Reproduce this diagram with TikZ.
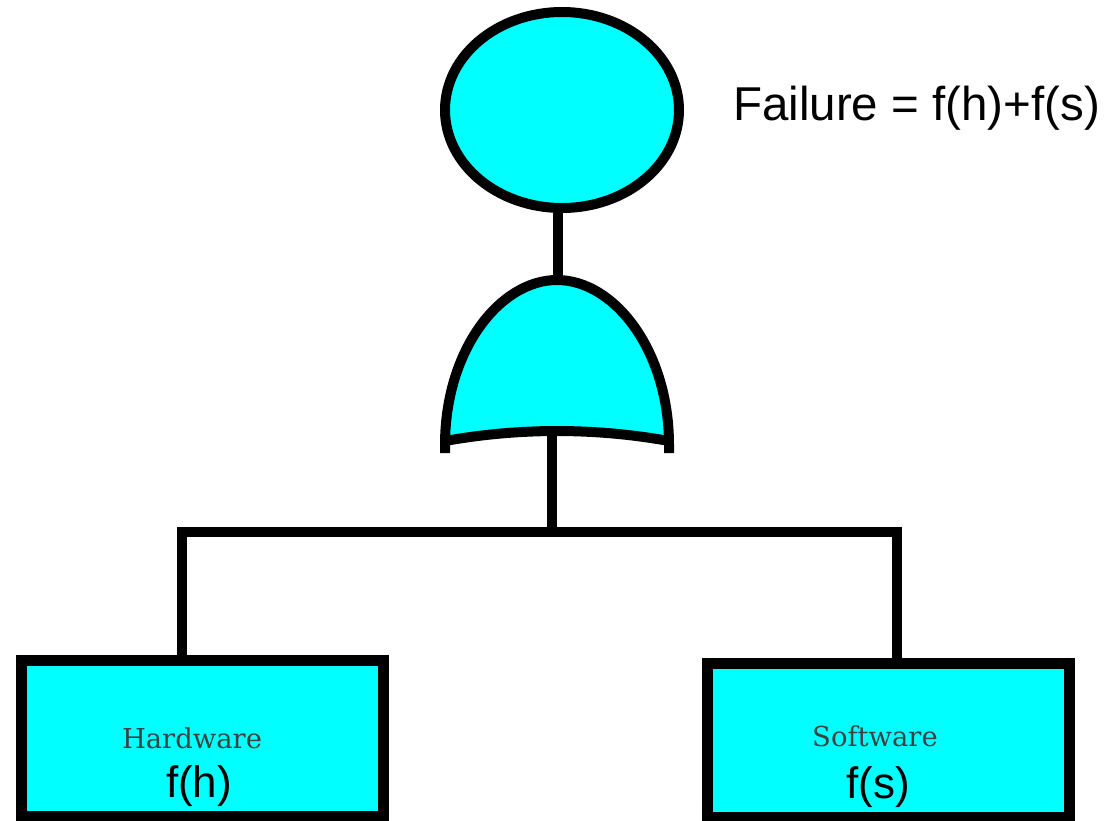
\documentclass[tikz,border=0pt]{standalone}
\usepackage{fontspec}
\setmainfont{Liberation Sans}
\newfontfamily\labelserif{DejaVu Serif}
\usetikzlibrary{shapes.geometric}
\definecolor{gatecyan}{HTML}{00FFFF}
\begin{document}
\begin{tikzpicture}[x=1pt,y=-1pt,
  wire/.style={line width=10pt,draw=black},
  eventbox/.style={rectangle,draw=black,fill=gatecyan,line width=11pt,inner sep=0pt},
  topevent/.style={ellipse,draw=black,fill=gatecyan,line width=10pt,inner sep=0pt,
    minimum width=234pt,minimum height=196pt},
  smalllabel/.style={font=\labelserif\fontsize{27.4}{30}\selectfont,text=black!75,anchor=base,inner sep=0pt},
  funclabel/.style={font=\fontsize{44}{50}\selectfont,anchor=base,inner sep=0pt}]
\useasboundingbox (0,0) rectangle (1106,820);

% top event
\node[topevent] (top) at (562,110) {};
\node[font=\fontsize{47.5}{52}\selectfont,anchor=base west,inner sep=0pt] (eq) at (733,120) {Failure = f(h)+f(s)};

% OR gate
\coordinate (gtop) at (558,280);
\coordinate (gbot) at (552,431);
\fill[gatecyan] (445,441) -- (445,445) .. controls (445,350) and (500,280) .. (557,280)
  .. controls (614,280) and (669,350) .. (669,445) -- (669,441)
  .. controls (595,427.7) and (519,427.7) .. (445,441) -- cycle;
\draw[wire] (445,453) -- (445,445) .. controls (445,350) and (500,280) .. (557,280)
  .. controls (614,280) and (669,350) .. (669,445) -- (669,453);
\draw[wire] (445,441) .. controls (519,427.7) and (595,427.7) .. (669,441);

% basic events
\node[eventbox,minimum width=362pt,minimum height=156pt] (hw) at (202,738) {};
\node[eventbox,minimum width=362pt,minimum height=154pt] (sw) at (888,740) {};
\node[smalllabel] (hwname) at (192,748) {Hardware};
\node[funclabel] (hwf) at (199,797) {f(h)};
\node[smalllabel] (swname) at (875,746) {Software};
\node[funclabel] (swf) at (878,798) {f(s)};

% connectors
\coordinate (busL) at (182,532);
\coordinate (busR) at (897,532);
\draw[wire] (gtop) -- (gtop |- top.south);
\draw[wire] (gbot) -- (gbot |- busL);
\draw[wire] (busL |- hw.north) -- (busL) -- (busR) -- (busR |- sw.north);
\end{tikzpicture}
\end{document}
